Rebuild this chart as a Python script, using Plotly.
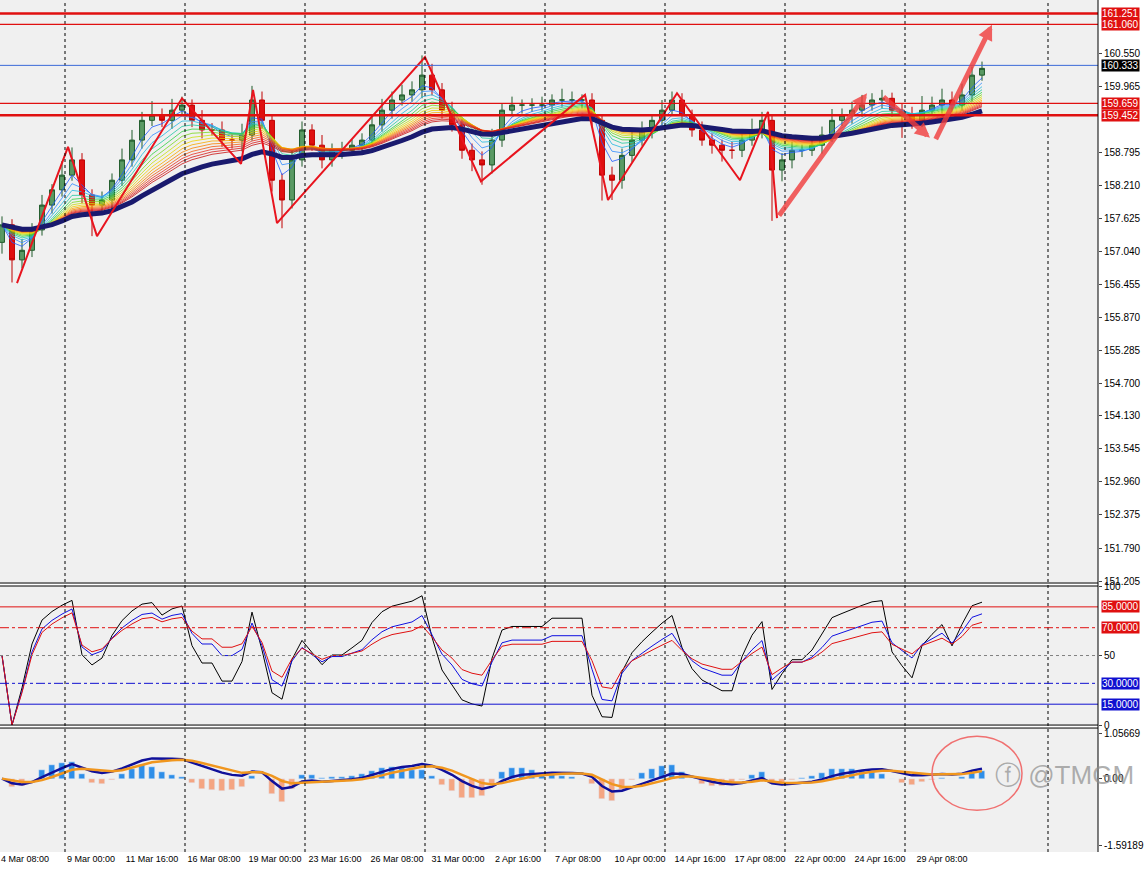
import plotly.graph_objects as go
import pandas as pd
import numpy as np

# ---------------- data ----------------
closes = [157.51,156.89,157.06,157.42,157.86,158.13,158.39,158.66,158.04,157.86,
          157.95,158.30,158.66,159.01,159.36,159.45,159.36,159.54,159.63,159.36,
          159.19,159.19,159.01,159.01,159.10,159.72,159.36,158.30,157.95,158.66,
          159.19,158.92,158.66,158.83,158.83,158.92,159.01,159.28,159.54,159.72,
          159.81,159.90,160.16,159.90,159.54,159.28,158.83,158.66,158.57,159.01,
          159.54,159.63,159.63,159.63,159.63,159.72,159.72,159.72,159.72,159.36,
          158.39,158.30,158.74,159.01,159.19,159.36,159.54,159.72,159.45,159.19,
          159.01,158.92,158.83,158.83,159.01,159.19,159.36,158.48,158.66,158.83,
          158.83,158.92,159.10,159.36,159.45,159.54,159.63,159.72,159.75,159.54,
          159.45,159.36,159.54,159.63,159.72,159.63,159.81,160.16,160.28]
first_open = 157.20
wick_up = [0.15,0.10,0.20,0.12,0.18,0.10,0.25,0.22,0.12,0.10,0.15,0.12,0.20,0.18,0.15,0.25,0.12,0.20,0.15,0.10,
           0.18,0.12,0.15,0.10,0.20,0.25,0.15,0.10,0.12,0.20,0.15,0.10,0.18,0.12,0.15,0.10,0.12,0.15,0.20,0.15,
           0.18,0.15,0.35,0.20,0.12,0.15,0.10,0.12,0.15,0.20,0.12,0.15,0.10,0.12,0.15,0.10,0.20,0.15,0.10,0.12,
           0.10,0.15,0.12,0.20,0.15,0.10,0.18,0.15,0.12,0.10,0.15,0.12,0.10,0.15,0.12,0.20,0.15,0.10,0.12,0.15,
           0.10,0.12,0.15,0.20,0.12,0.15,0.18,0.12,0.15,0.10,0.12,0.15,0.25,0.15,0.20,0.15,0.20,0.15,0.12]
wick_dn = [0.20,0.40,0.15,0.12,0.10,0.15,0.12,0.10,0.15,0.55,0.12,0.15,0.10,0.12,0.15,0.10,0.12,0.15,0.10,0.12,
           0.15,0.10,0.12,0.15,0.20,0.10,0.15,0.20,0.50,0.15,0.12,0.10,0.15,0.12,0.15,0.10,0.12,0.10,0.12,0.15,
           0.10,0.12,0.15,0.10,0.15,0.12,0.15,0.20,0.35,0.15,0.12,0.10,0.15,0.12,0.10,0.15,0.12,0.10,0.15,0.12,
           0.45,0.35,0.15,0.12,0.10,0.15,0.12,0.10,0.15,0.12,0.10,0.15,0.20,0.15,0.12,0.10,0.15,0.90,0.20,0.15,
           0.12,0.10,0.15,0.12,0.10,0.15,0.12,0.10,0.15,0.12,0.40,0.15,0.12,0.10,0.15,0.12,0.10,0.12,0.10]

zz_x = [1.5,6.6,9.5,18.0,23.9,25.1,27.5,42.3,47.9,58.3,60.6,67.5,73.8,76.6,77.5]
zz_y = [156.48,158.89,157.31,159.75,158.59,159.90,157.54,160.48,158.28,159.81,157.95,159.84,158.30,159.51,157.63]

levels = [161.251,161.060,159.659,159.452]
level_widths = [2.5,1.2,1.2,2.5]
current_price = 160.333

price_ticks = [160.550,159.965,158.795,158.210,157.625,157.040,156.455,155.870,155.285,
               154.700,154.130,153.545,152.960,152.375,151.790,151.205]
date_labels = ["4 Mar 08:00","9 Mar 00:00","11 Mar 16:00","16 Mar 08:00","19 Mar 00:00",
               "23 Mar 16:00","26 Mar 08:00","31 Mar 00:00","2 Apr 16:00","7 Apr 08:00",
               "10 Apr 00:00","14 Apr 16:00","17 Apr 08:00","22 Apr 00:00","24 Apr 16:00","29 Apr 08:00"]
date_pos = [2.3,8.9,15.0,21.2,27.3,33.3,39.5,45.6,51.6,57.6,63.8,69.8,75.8,81.8,87.8,94.0]
vgrid = [6.3,18.3,30.3,42.3,54.3,66.3,78.3,90.3,104.6]

rsi_levels = [85,70,50,30,15]

# ---------------- derived ----------------
n = len(closes)
x = list(range(n))
opens = [first_open] + closes[:-1]
highs = [max(o, c) + w for o, c, w in zip(opens, closes, wick_up)]
lows = [min(o, c) - w for o, c, w in zip(opens, closes, wick_dn)]
cs = pd.Series(closes)

def rsi(s, p):
    d = s.diff().fillna(0)
    up = d.clip(lower=0).ewm(alpha=1/p, adjust=False).mean()
    dn = (-d.clip(upper=0)).ewm(alpha=1/p, adjust=False).mean()
    r = 100 - 100 / (1 + up / dn.replace(0, 1e-9))
    r.iloc[0] = 50
    return r

fig = go.Figure()

ribbon_cols = ["#1e5cff","#2f8cff","#22b8e0","#20c8a0","#30d040","#7ad820","#c8e010","#f0d000",
               "#f8a800","#f88000","#f05a10","#e83020","#d81818","#c81010"]
for i, col in enumerate(ribbon_cols):
    fig.add_trace(go.Scatter(x=x, y=cs.ewm(span=3 + i * 1.3, adjust=False).mean(), mode="lines",
                             line=dict(color=col, width=0.8), hoverinfo="skip", showlegend=False))
fig.add_trace(go.Scatter(x=x, y=cs.ewm(span=26, adjust=False).mean(), mode="lines",
                         line=dict(color="#1a1a6e", width=5), showlegend=False))

fig.add_trace(go.Candlestick(x=x, open=opens, high=highs, low=lows, close=closes,
                             increasing=dict(line=dict(color="#1f5a2a", width=1), fillcolor="#5a9a64"),
                             decreasing=dict(line=dict(color="#c00000", width=1), fillcolor="#e01010"),
                             whiskerwidth=0, showlegend=False))
fig.add_trace(go.Scatter(x=zz_x, y=zz_y, mode="lines", line=dict(color="#e8141e", width=2), showlegend=False))

for p, col in [(4, "black"), (7, "#1010e0"), (10, "#e01010")]:
    fig.add_trace(go.Scatter(x=x, y=rsi(cs, p), yaxis="y2", mode="lines",
                             line=dict(color=col, width=1), showlegend=False))

macd = cs.ewm(span=5, adjust=False).mean() - cs.ewm(span=12, adjust=False).mean()
sig = macd.ewm(span=4, adjust=False).mean()
hist = (macd - sig) * 3
fig.add_trace(go.Bar(x=x, y=hist, yaxis="y3", width=0.6,
                     marker_color=["#2e8ee8" if v >= 0 else "#f4a582" for v in hist], showlegend=False))
fig.add_trace(go.Scatter(x=x, y=macd, yaxis="y3", mode="lines", line=dict(color="#10109a", width=2.5), showlegend=False))
fig.add_trace(go.Scatter(x=x, y=sig, yaxis="y3", mode="lines", line=dict(color="#f0961e", width=2.5), showlegend=False))

shapes = []
for v in vgrid:
    shapes.append(dict(type="line", xref="x", yref="paper", x0=v, x1=v, y0=0.0, y1=1,
                       line=dict(color="black", width=1, dash="3px,3px")))
for lv, w in zip(levels, level_widths):
    shapes.append(dict(type="line", xref="paper", yref="y", x0=0, x1=1, y0=lv, y1=lv,
                       line=dict(color="#e01010", width=w)))
shapes.append(dict(type="line", xref="paper", yref="y", x0=0, x1=1, y0=current_price, y1=current_price,
                   line=dict(color="#3a6ad8", width=1)))
rsi_styles = [("#e01010", "solid"), ("#e01010", "dashdot"), ("#808080", "dot"), ("#1010d0", "dashdot"), ("#1010d0", "solid")]
for lv, (c, d) in zip(rsi_levels, rsi_styles):
    shapes.append(dict(type="line", xref="paper", yref="y2", x0=0, x1=1, y0=lv, y1=lv, line=dict(color=c, width=1, dash=d)))
for yy in [0.3157, 0.3122, 0.149, 0.1455]:
    shapes.append(dict(type="line", xref="paper", yref="paper", x0=0, x1=1, y0=yy, y1=yy, line=dict(color="black", width=1)))
shapes.append(dict(type="line", xref="paper", yref="paper", x0=1, x1=1, y0=0, y1=1, line=dict(color="black", width=1)))
shapes.append(dict(type="circle", xref="x", yref="y3", x0=93.0, x1=102.0, y0=-0.75, y1=1.0,
                   line=dict(color="#f07070", width=1.5)))

annotations = []
lab = [(161.251, "#e01010"), (161.060, "#e01010"), (current_price, "black"), (159.659, "#e01010"), (159.452, "#e01010")]
for v, bg in lab:
    annotations.append(dict(xref="paper", yref="y", x=1.003, y=v, xanchor="left", yanchor="middle",
                            text=f"{v:.3f}", showarrow=False, bgcolor=bg, font=dict(color="white", size=10),
                            borderpad=0))
for lv, bg in [(85, "#e01010"), (70, "#e01010"), (30, "#1010d0"), (15, "#1010d0")]:
    annotations.append(dict(xref="paper", yref="y2", x=1.003, y=lv, xanchor="left", yanchor="middle",
                            text=f"{lv:.4f}", showarrow=False, bgcolor=bg, font=dict(color="white", size=10), borderpad=0))
arrow_style = dict(showarrow=True, arrowhead=2, arrowsize=0.6, arrowwidth=5, arrowcolor="rgba(240,60,60,0.8)",
                   xref="x", yref="y", axref="x", ayref="y", text="")
annotations.append(dict(x=86.5, y=159.84, ax=77.6, ay=157.65, **arrow_style))
annotations.append(dict(x=92.8, y=159.05, ax=88.0, ay=159.80, **arrow_style))
annotations.append(dict(x=99.0, y=161.05, ax=93.3, ay=159.00, **arrow_style))
annotations.append(dict(xref="paper", yref="paper", x=1.035, y=0.07, xanchor="right", text="ⓕ @TMGM", showarrow=False,
                        font=dict(size=26, color="rgba(140,140,140,0.7)", family="Liberation Sans")))

fig.update_layout(
    width=1148, height=869, margin=dict(l=0, r=50, t=0, b=17, autoexpand=False),
    paper_bgcolor="white", plot_bgcolor="#f0f0f0", bargap=0,
    font=dict(family="Liberation Sans", size=10, color="black"),
    shapes=shapes, annotations=annotations, showlegend=False,
    xaxis=dict(range=[-0.2, 109.6], tickvals=date_pos, ticktext=date_labels, showgrid=False, anchor="y3",
               rangeslider=dict(visible=False), zeroline=False, tickfont=dict(size=9), ticks="",
               tickangle=0, automargin=False),
    yaxis=dict(domain=[0.3157, 1], range=[151.17, 161.49], side="right", tickvals=price_ticks,
               ticktext=[f"{t:.3f}" for t in price_ticks], showgrid=False, zeroline=False, ticks="outside",
               ticklen=3, automargin=False),
    yaxis2=dict(domain=[0.149, 0.3122], range=[0, 100], side="right", anchor="x", tickvals=[0, 50, 100],
                showgrid=False, zeroline=False, ticks="outside", ticklen=3, automargin=False),
    yaxis3=dict(domain=[0, 0.1455], range=[-1.737, 1.197], side="right", anchor="x",
                tickvals=[1.05669, 0.0, -1.59189], ticktext=["1.05669", "0.00", "-1.59189"],
                showgrid=False, zeroline=False, ticks="outside", ticklen=3, automargin=False),
)
fig.write_html("out.html", config={"displayModeBar": False},
               post_script="document.body.style.margin='0';document.body.style.overflow='hidden';")
